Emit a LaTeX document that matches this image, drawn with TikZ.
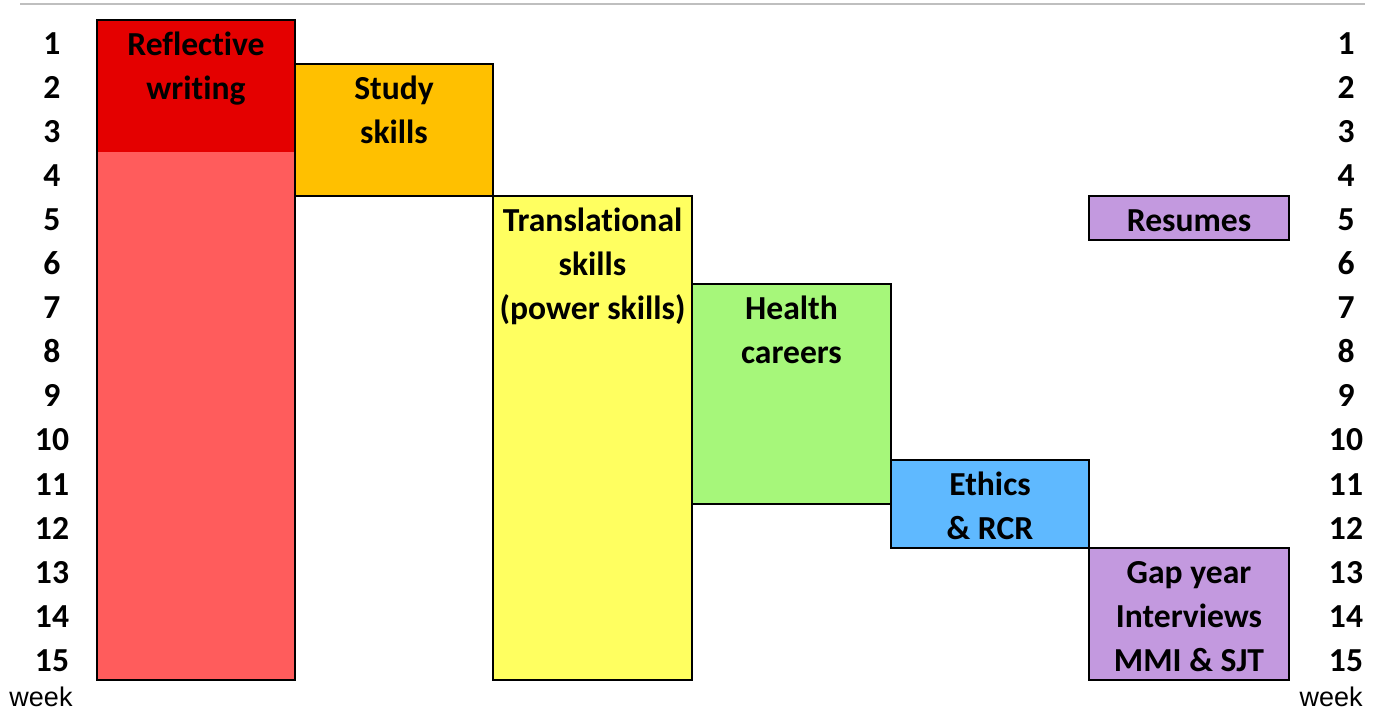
\documentclass[tikz,border=0pt]{standalone}
\usepackage{fontspec}
\setmainfont{Carlito}[Ligatures=NoCommon]
\newfontfamily\weekfont{Liberation Sans}
\usetikzlibrary{positioning}
\definecolor{reflectdark}{RGB}{228,0,0}
\definecolor{reflectlight}{RGB}{255,92,92}
\definecolor{studyorange}{RGB}{255,192,0}
\definecolor{transyellow}{RGB}{255,255,96}
\definecolor{healthgreen}{RGB}{166,247,122}
\definecolor{ethicsblue}{RGB}{95,185,255}
\definecolor{careerpurple}{RGB}{195,153,223}

\begin{document}
\begin{tikzpicture}[x=0.5pt, y=-0.5pt,
    box/.style={draw=black, line width=1.4pt},
    topic/.style={font=\fontsize{16.8}{22}\selectfont\bfseries, align=center, anchor=north, inner sep=0pt},
    weeknum/.style={font=\fontsize{16.8}{22}\selectfont\bfseries, anchor=base, inner sep=0pt},
    weekword/.style={font=\weekfont\fontsize{13.5}{16}\selectfont, inner sep=0pt}]
    \useasboundingbox (0,0) rectangle (1379,715);

    % Top rule
    \draw[black!25, line width=1pt] (20,4) -- (1365,4);

    % Week numbers
    \foreach \w in {1,...,15} {
        \node[weeknum] (left\w) at (52,{55+44*(\w-1)}) {\w};
        \node[weeknum] (right\w) at (1346,{55+44*(\w-1)}) {\w};
    }
    \node[weekword] (weekleft) at (41,697) {week};
    \node[weekword] (weekright) at (1331,697) {week};

    % Reflective writing
    \fill[reflectlight] (97,20) rectangle (295,680);
    \fill[reflectdark] (97,20) rectangle (295,152);
    \draw[box] (97,20) rectangle (295,680);
    \node[topic] (reflective) at (196,24) {\strut Reflective\\writing};

    % Study skills
    \draw[box, fill=studyorange] (295,64) rectangle (493,196);
    \node[topic] (study) at (394,68) {\strut Study\\skills};

    % Translational skills
    \draw[box, fill=transyellow] (493,196) rectangle (692,680);
    \node[topic] (translational) at (592.5,200) {\strut Translational\\skills\\(power skills)};

    % Health careers
    \draw[box, fill=healthgreen] (692,284) rectangle (891,504);
    \node[topic] (health) at (791.5,288) {\strut Health\\careers};

    % Ethics
    \draw[box, fill=ethicsblue] (891,460) rectangle (1089,548);
    \node[topic] (ethics) at (990,464) {\strut Ethics\\\& RCR};

    % Resumes
    \draw[box, fill=careerpurple] (1089,196) rectangle (1289,240);
    \node[topic] (resumes) at (1189,200) {\strut Resumes};

    % Gap year / interviews
    \draw[box, fill=careerpurple] (1089,548) rectangle (1289,680);
    \node[topic] (gapyear) at (1189,552) {\strut Gap year\\Interviews\\MMI \& SJT};
\end{tikzpicture}
\end{document}
